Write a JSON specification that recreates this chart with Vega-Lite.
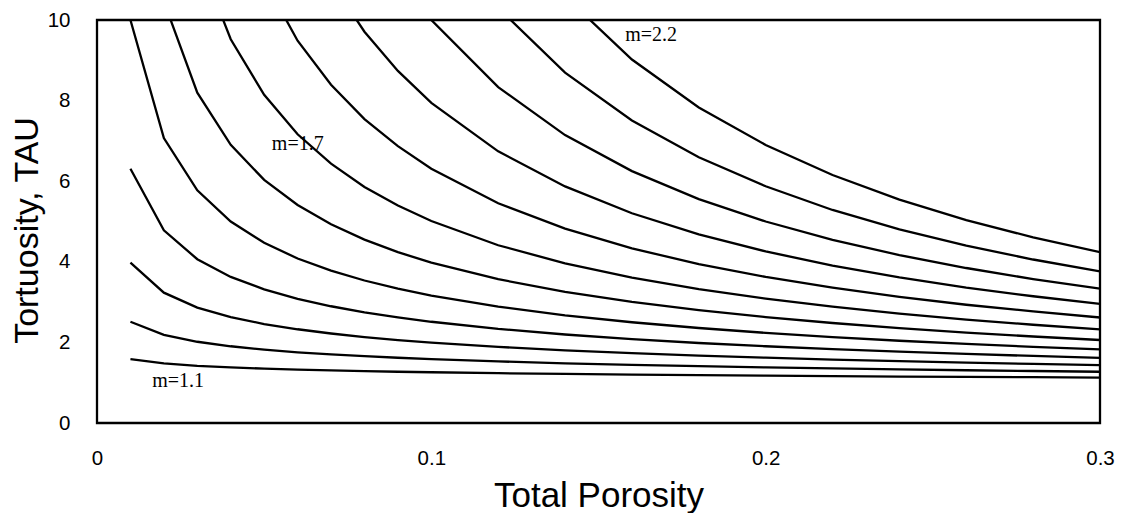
{
  "$schema": "https://vega.github.io/schema/vega-lite/v6.json",
  "autosize": "none",
  "width": 1003,
  "height": 403,
  "padding": {"left": 97, "top": 20, "right": 25, "bottom": 90},
  "background": "white",
  "config": {
    "view": {"stroke": "black", "strokeWidth": 2.3},
    "font": "Liberation Sans"
  },
  "layer": [
    {
      "data": {
        "values": [
          {"m": 1.1, "phi": 0.01, "tau": 1.585}, {"m": 1.1, "phi": 0.02, "tau": 1.479}, {"m": 1.1, "phi": 0.03, "tau": 1.42}, {"m": 1.1, "phi": 0.04, "tau": 1.38}, {"m": 1.1, "phi": 0.05, "tau": 1.349}, {"m": 1.1, "phi": 0.06, "tau": 1.325}, {"m": 1.1, "phi": 0.07, "tau": 1.305}, {"m": 1.1, "phi": 0.08, "tau": 1.287}, {"m": 1.1, "phi": 0.09, "tau": 1.272}, {"m": 1.1, "phi": 0.1, "tau": 1.259}, {"m": 1.1, "phi": 0.12, "tau": 1.236}, {"m": 1.1, "phi": 0.14, "tau": 1.217}, {"m": 1.1, "phi": 0.16, "tau": 1.201}, {"m": 1.1, "phi": 0.18, "tau": 1.187}, {"m": 1.1, "phi": 0.2, "tau": 1.175}, {"m": 1.1, "phi": 0.22, "tau": 1.163}, {"m": 1.1, "phi": 0.24, "tau": 1.153}, {"m": 1.1, "phi": 0.26, "tau": 1.144}, {"m": 1.1, "phi": 0.28, "tau": 1.136}, {"m": 1.1, "phi": 0.3, "tau": 1.128},
          {"m": 1.2, "phi": 0.01, "tau": 2.512}, {"m": 1.2, "phi": 0.02, "tau": 2.187}, {"m": 1.2, "phi": 0.03, "tau": 2.016}, {"m": 1.2, "phi": 0.04, "tau": 1.904}, {"m": 1.2, "phi": 0.05, "tau": 1.821}, {"m": 1.2, "phi": 0.06, "tau": 1.755}, {"m": 1.2, "phi": 0.07, "tau": 1.702}, {"m": 1.2, "phi": 0.08, "tau": 1.657}, {"m": 1.2, "phi": 0.09, "tau": 1.619}, {"m": 1.2, "phi": 0.1, "tau": 1.585}, {"m": 1.2, "phi": 0.12, "tau": 1.528}, {"m": 1.2, "phi": 0.14, "tau": 1.482}, {"m": 1.2, "phi": 0.16, "tau": 1.443}, {"m": 1.2, "phi": 0.18, "tau": 1.409}, {"m": 1.2, "phi": 0.2, "tau": 1.38}, {"m": 1.2, "phi": 0.22, "tau": 1.354}, {"m": 1.2, "phi": 0.24, "tau": 1.33}, {"m": 1.2, "phi": 0.26, "tau": 1.309}, {"m": 1.2, "phi": 0.28, "tau": 1.29}, {"m": 1.2, "phi": 0.3, "tau": 1.272},
          {"m": 1.3, "phi": 0.01, "tau": 3.981}, {"m": 1.3, "phi": 0.02, "tau": 3.234}, {"m": 1.3, "phi": 0.03, "tau": 2.863}, {"m": 1.3, "phi": 0.04, "tau": 2.627}, {"m": 1.3, "phi": 0.05, "tau": 2.456}, {"m": 1.3, "phi": 0.06, "tau": 2.326}, {"m": 1.3, "phi": 0.07, "tau": 2.221}, {"m": 1.3, "phi": 0.08, "tau": 2.133}, {"m": 1.3, "phi": 0.09, "tau": 2.059}, {"m": 1.3, "phi": 0.1, "tau": 1.995}, {"m": 1.3, "phi": 0.12, "tau": 1.889}, {"m": 1.3, "phi": 0.14, "tau": 1.804}, {"m": 1.3, "phi": 0.16, "tau": 1.733}, {"m": 1.3, "phi": 0.18, "tau": 1.673}, {"m": 1.3, "phi": 0.2, "tau": 1.621}, {"m": 1.3, "phi": 0.22, "tau": 1.575}, {"m": 1.3, "phi": 0.24, "tau": 1.534}, {"m": 1.3, "phi": 0.26, "tau": 1.498}, {"m": 1.3, "phi": 0.28, "tau": 1.465}, {"m": 1.3, "phi": 0.3, "tau": 1.435},
          {"m": 1.4, "phi": 0.01, "tau": 6.31}, {"m": 1.4, "phi": 0.02, "tau": 4.783}, {"m": 1.4, "phi": 0.03, "tau": 4.064}, {"m": 1.4, "phi": 0.04, "tau": 3.625}, {"m": 1.4, "phi": 0.05, "tau": 3.316}, {"m": 1.4, "phi": 0.06, "tau": 3.08}, {"m": 1.4, "phi": 0.07, "tau": 2.897}, {"m": 1.4, "phi": 0.08, "tau": 2.746}, {"m": 1.4, "phi": 0.09, "tau": 2.621}, {"m": 1.4, "phi": 0.1, "tau": 2.512}, {"m": 1.4, "phi": 0.12, "tau": 2.335}, {"m": 1.4, "phi": 0.14, "tau": 2.196}, {"m": 1.4, "phi": 0.16, "tau": 2.082}, {"m": 1.4, "phi": 0.18, "tau": 1.985}, {"m": 1.4, "phi": 0.2, "tau": 1.904}, {"m": 1.4, "phi": 0.22, "tau": 1.833}, {"m": 1.4, "phi": 0.24, "tau": 1.769}, {"m": 1.4, "phi": 0.26, "tau": 1.713}, {"m": 1.4, "phi": 0.28, "tau": 1.664}, {"m": 1.4, "phi": 0.3, "tau": 1.618},
          {"m": 1.5, "phi": 0.01, "tau": 10.0}, {"m": 1.5, "phi": 0.02, "tau": 7.071}, {"m": 1.5, "phi": 0.03, "tau": 5.774}, {"m": 1.5, "phi": 0.04, "tau": 5.0}, {"m": 1.5, "phi": 0.05, "tau": 4.472}, {"m": 1.5, "phi": 0.06, "tau": 4.082}, {"m": 1.5, "phi": 0.07, "tau": 3.78}, {"m": 1.5, "phi": 0.08, "tau": 3.536}, {"m": 1.5, "phi": 0.09, "tau": 3.333}, {"m": 1.5, "phi": 0.1, "tau": 3.162}, {"m": 1.5, "phi": 0.12, "tau": 2.887}, {"m": 1.5, "phi": 0.14, "tau": 2.673}, {"m": 1.5, "phi": 0.16, "tau": 2.5}, {"m": 1.5, "phi": 0.18, "tau": 2.357}, {"m": 1.5, "phi": 0.2, "tau": 2.236}, {"m": 1.5, "phi": 0.22, "tau": 2.132}, {"m": 1.5, "phi": 0.24, "tau": 2.041}, {"m": 1.5, "phi": 0.26, "tau": 1.961}, {"m": 1.5, "phi": 0.28, "tau": 1.89}, {"m": 1.5, "phi": 0.3, "tau": 1.826},
          {"m": 1.6, "phi": 0.02, "tau": 10.46}, {"m": 1.6, "phi": 0.03, "tau": 8.197}, {"m": 1.6, "phi": 0.04, "tau": 6.901}, {"m": 1.6, "phi": 0.05, "tau": 6.032}, {"m": 1.6, "phi": 0.06, "tau": 5.41}, {"m": 1.6, "phi": 0.07, "tau": 4.933}, {"m": 1.6, "phi": 0.08, "tau": 4.55}, {"m": 1.6, "phi": 0.09, "tau": 4.239}, {"m": 1.6, "phi": 0.1, "tau": 3.98}, {"m": 1.6, "phi": 0.12, "tau": 3.568}, {"m": 1.6, "phi": 0.14, "tau": 3.254}, {"m": 1.6, "phi": 0.16, "tau": 3.003}, {"m": 1.6, "phi": 0.18, "tau": 2.799}, {"m": 1.6, "phi": 0.2, "tau": 2.628}, {"m": 1.6, "phi": 0.22, "tau": 2.481}, {"m": 1.6, "phi": 0.24, "tau": 2.353}, {"m": 1.6, "phi": 0.26, "tau": 2.244}, {"m": 1.6, "phi": 0.28, "tau": 2.146}, {"m": 1.6, "phi": 0.3, "tau": 2.059},
          {"m": 1.7, "phi": 0.03, "tau": 11.635}, {"m": 1.7, "phi": 0.04, "tau": 9.523}, {"m": 1.7, "phi": 0.05, "tau": 8.144}, {"m": 1.7, "phi": 0.06, "tau": 7.164}, {"m": 1.7, "phi": 0.07, "tau": 6.434}, {"m": 1.7, "phi": 0.08, "tau": 5.857}, {"m": 1.7, "phi": 0.09, "tau": 5.397}, {"m": 1.7, "phi": 0.1, "tau": 5.011}, {"m": 1.7, "phi": 0.12, "tau": 4.411}, {"m": 1.7, "phi": 0.14, "tau": 3.962}, {"m": 1.7, "phi": 0.16, "tau": 3.608}, {"m": 1.7, "phi": 0.18, "tau": 3.321}, {"m": 1.7, "phi": 0.2, "tau": 3.086}, {"m": 1.7, "phi": 0.22, "tau": 2.887}, {"m": 1.7, "phi": 0.24, "tau": 2.714}, {"m": 1.7, "phi": 0.26, "tau": 2.566}, {"m": 1.7, "phi": 0.28, "tau": 2.438}, {"m": 1.7, "phi": 0.3, "tau": 2.322},
          {"m": 1.8, "phi": 0.05, "tau": 10.996}, {"m": 1.8, "phi": 0.06, "tau": 9.486}, {"m": 1.8, "phi": 0.07, "tau": 8.393}, {"m": 1.8, "phi": 0.08, "tau": 7.541}, {"m": 1.8, "phi": 0.09, "tau": 6.87}, {"m": 1.8, "phi": 0.1, "tau": 6.31}, {"m": 1.8, "phi": 0.12, "tau": 5.452}, {"m": 1.8, "phi": 0.14, "tau": 4.822}, {"m": 1.8, "phi": 0.16, "tau": 4.335}, {"m": 1.8, "phi": 0.18, "tau": 3.94}, {"m": 1.8, "phi": 0.2, "tau": 3.625}, {"m": 1.8, "phi": 0.22, "tau": 3.36}, {"m": 1.8, "phi": 0.24, "tau": 3.129}, {"m": 1.8, "phi": 0.26, "tau": 2.934}, {"m": 1.8, "phi": 0.28, "tau": 2.769}, {"m": 1.8, "phi": 0.3, "tau": 2.618},
          {"m": 1.9, "phi": 0.07, "tau": 10.951}, {"m": 1.9, "phi": 0.08, "tau": 9.71}, {"m": 1.9, "phi": 0.09, "tau": 8.736}, {"m": 1.9, "phi": 0.1, "tau": 7.943}, {"m": 1.9, "phi": 0.12, "tau": 6.741}, {"m": 1.9, "phi": 0.14, "tau": 5.87}, {"m": 1.9, "phi": 0.16, "tau": 5.205}, {"m": 1.9, "phi": 0.18, "tau": 4.679}, {"m": 1.9, "phi": 0.2, "tau": 4.257}, {"m": 1.9, "phi": 0.22, "tau": 3.908}, {"m": 1.9, "phi": 0.24, "tau": 3.611}, {"m": 1.9, "phi": 0.26, "tau": 3.359}, {"m": 1.9, "phi": 0.28, "tau": 3.145}, {"m": 1.9, "phi": 0.3, "tau": 2.954},
          {"m": 2.0, "phi": 0.09, "tau": 11.11}, {"m": 2.0, "phi": 0.1, "tau": 10.0}, {"m": 2.0, "phi": 0.12, "tau": 8.333}, {"m": 2.0, "phi": 0.14, "tau": 7.143}, {"m": 2.0, "phi": 0.16, "tau": 6.25}, {"m": 2.0, "phi": 0.18, "tau": 5.556}, {"m": 2.0, "phi": 0.2, "tau": 5.0}, {"m": 2.0, "phi": 0.22, "tau": 4.545}, {"m": 2.0, "phi": 0.24, "tau": 4.167}, {"m": 2.0, "phi": 0.26, "tau": 3.846}, {"m": 2.0, "phi": 0.28, "tau": 3.571}, {"m": 2.0, "phi": 0.3, "tau": 3.333},
          {"m": 2.1, "phi": 0.12, "tau": 10.3}, {"m": 2.1, "phi": 0.14, "tau": 8.693}, {"m": 2.1, "phi": 0.16, "tau": 7.506}, {"m": 2.1, "phi": 0.18, "tau": 6.595}, {"m": 2.1, "phi": 0.2, "tau": 5.875}, {"m": 2.1, "phi": 0.22, "tau": 5.286}, {"m": 2.1, "phi": 0.24, "tau": 4.805}, {"m": 2.1, "phi": 0.26, "tau": 4.4}, {"m": 2.1, "phi": 0.28, "tau": 4.057}, {"m": 2.1, "phi": 0.3, "tau": 3.76},
          {"m": 2.2, "phi": 0.14, "tau": 10.586}, {"m": 2.2, "phi": 0.16, "tau": 9.019}, {"m": 2.2, "phi": 0.18, "tau": 7.828}, {"m": 2.2, "phi": 0.2, "tau": 6.9}, {"m": 2.2, "phi": 0.22, "tau": 6.154}, {"m": 2.2, "phi": 0.24, "tau": 5.542}, {"m": 2.2, "phi": 0.26, "tau": 5.034}, {"m": 2.2, "phi": 0.28, "tau": 4.607}, {"m": 2.2, "phi": 0.3, "tau": 4.24}
        ]
      },
      "mark": {"type": "line", "color": "black", "strokeWidth": 2.3, "clip": true},
      "encoding": {
        "x": {
          "field": "phi", "type": "quantitative",
          "scale": {"domain": [0, 0.3], "nice": false, "zero": false},
          "axis": {
            "title": "Total Porosity", "values": [0, 0.1, 0.2, 0.3], "format": "~g",
            "domain": false, "ticks": false, "grid": false,
            "labelFont": "Liberation Sans", "labelFontSize": 20.5, "labelColor": "black", "labelPadding": 25,
            "labelFlush": false,
            "titleFont": "Liberation Sans", "titleFontSize": 35, "titleFontWeight": "normal", "titleColor": "black", "titlePadding": 10
          }
        },
        "y": {
          "field": "tau", "type": "quantitative",
          "scale": {"domain": [0, 10], "nice": false},
          "axis": {
            "title": "Tortuosity, TAU", "values": [0, 2, 4, 6, 8, 10], "format": "d",
            "domain": false, "ticks": false, "grid": false,
            "labelFont": "Liberation Sans", "labelFontSize": 20.5, "labelColor": "black", "labelPadding": 27,
            "labelFlush": false,
            "titleFont": "Liberation Sans", "titleFontSize": 34, "titleFontWeight": "normal", "titleColor": "black", "titlePadding": 3,
            "titleY": 210
          }
        },
        "detail": {"field": "m", "type": "nominal"}
      }
    },
    {
      "data": {
        "values": [
          {"label": "m=1.1", "phi": 0.0165, "tau": 1.04},
          {"label": "m=1.7", "phi": 0.0523, "tau": 6.92},
          {"label": "m=2.2", "phi": 0.158, "tau": 9.63}
        ]
      },
      "mark": {"type": "text", "align": "left", "baseline": "middle", "font": "Liberation Serif", "fontSize": 20, "fontWeight": "normal", "color": "black"},
      "encoding": {
        "x": {"field": "phi", "type": "quantitative"},
        "y": {"field": "tau", "type": "quantitative"},
        "text": {"field": "label"}
      }
    }
  ]
}
